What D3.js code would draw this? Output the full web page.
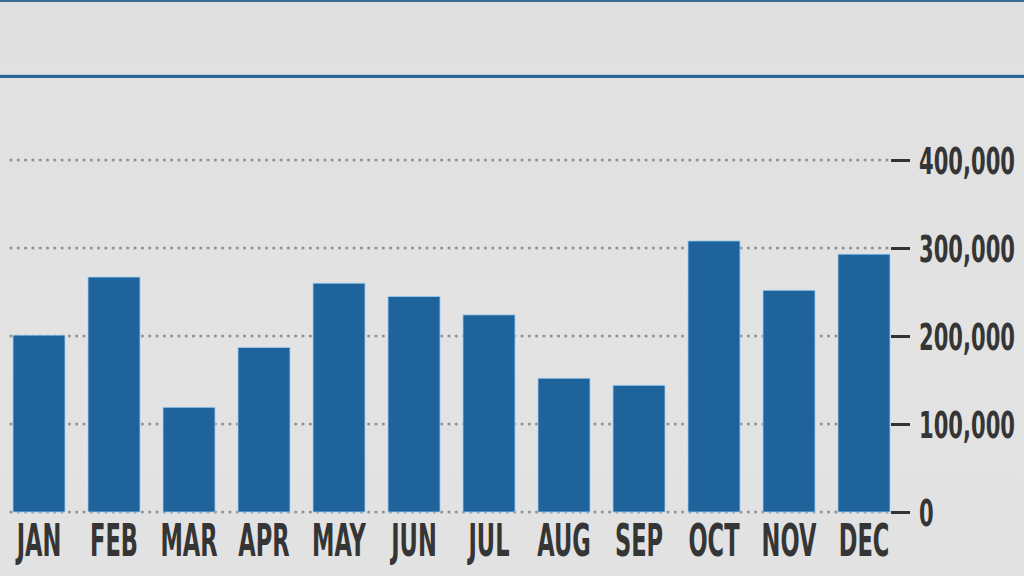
<!DOCTYPE html>
<html>
<head>
<meta charset="utf-8">
<script src="https://cdn.jsdelivr.net/npm/d3@7"></script>
<style>
  html, body { margin: 0; padding: 0; background: #e1e1e1; overflow: hidden; }
  svg { display: block; }
</style>
</head>
<body>
<svg id="chart" width="1024" height="576"></svg>
<script>
const months = ["JAN","FEB","MAR","APR","MAY","JUN","JUL","AUG","SEP","OCT","NOV","DEC"];
const values = [201000, 267000, 119000, 187000, 260000, 245000, 224000, 152000, 144000, 308000, 252000, 293000];
const tickValues = [0, 100000, 200000, 300000, 400000];
const tickLabels = ["0", "100,000", "200,000", "300,000", "400,000"];

const svg = d3.select("#chart");
const W = 1024, H = 576;

const defs = svg.append("defs");
const bg = defs.append("linearGradient").attr("id", "bg").attr("x1", 0).attr("y1", 0).attr("x2", 0).attr("y2", 1);
bg.append("stop").attr("offset", "0%").attr("stop-color", "#e0e0e0");
bg.append("stop").attr("offset", "60%").attr("stop-color", "#e3e3e3");
bg.append("stop").attr("offset", "100%").attr("stop-color", "#e2e2e2");
svg.append("rect").attr("width", W).attr("height", H).attr("fill", "url(#bg)");

// top rules
svg.append("line").attr("x1", 0).attr("x2", W).attr("y1", 1).attr("y2", 1)
  .attr("stroke", "#3a6d96").attr("stroke-width", 2);
svg.append("line").attr("x1", 0).attr("x2", W).attr("y1", 74.5).attr("y2", 74.5)
  .attr("stroke", "#b8cfe2").attr("stroke-width", 1);
svg.append("line").attr("x1", 0).attr("x2", W).attr("y1", 76.5).attr("y2", 76.5)
  .attr("stroke", "#2c6496").attr("stroke-width", 3);

const x = d3.scaleBand().domain(months).range([1.5, 901.5])
  .paddingInner(23 / 75).paddingOuter(23 / 150);
const y = d3.scaleLinear().domain([0, 400000]).range([512, 160]);

// dotted gridlines
svg.append("g").selectAll("line").data(tickValues).join("line")
  .attr("x1", 11).attr("x2", 888)
  .attr("y1", d => y(d)).attr("y2", d => y(d))
  .attr("stroke", "#939393").attr("stroke-width", 3.2)
  .attr("stroke-linecap", "round").attr("stroke-dasharray", "0,7.3");

// bars
svg.append("g").selectAll("rect").data(values).join("rect")
  .attr("x", (d, i) => x(months[i]))
  .attr("y", d => y(d))
  .attr("width", x.bandwidth())
  .attr("height", d => y(0) - y(d))
  .attr("fill", "#1e639c")
  .attr("stroke", "#9fcff0").attr("stroke-width", 0.8);

const fontFam = "'Liberation Sans Narrow', 'DejaVu Sans Condensed', 'Liberation Sans', sans-serif";

// right axis
const yAxis = d3.axisRight(y).tickValues(tickValues)
  .tickFormat((d, i) => tickLabels[i]).tickSize(19).tickPadding(0);
const ga = svg.append("g").attr("transform", "translate(891,0)").call(yAxis);
ga.select(".domain").remove();
ga.selectAll(".tick line").attr("stroke", "#333").attr("stroke-width", 3);
const yTexts = ga.selectAll(".tick text")
  .attr("x", 0).attr("dy", "0.36em")
  .attr("fill", "#353535")
  .style("font-family", fontFam).style("font-weight", "bold").style("font-size", "38px")
  .attr("text-anchor", "start");
// condense numbers so that the widest label spans ~96px
let wMax = 0;
yTexts.each(function() { wMax = Math.max(wMax, this.getComputedTextLength()); });
const sy = 96 / wMax;
yTexts.attr("transform", `translate(28,0) scale(${sy},1)`);

// bottom axis (month labels)
const xAxis = d3.axisBottom(x).tickSize(0).tickPadding(0);
const gx = svg.append("g").attr("transform", "translate(0,512)").call(xAxis);
gx.select(".domain").remove();
const xTexts = gx.selectAll(".tick text")
  .attr("y", 0).attr("dy", 0)
  .attr("fill", "#353535")
  .style("font-family", fontFam).style("font-weight", "bold").style("font-size", "44px")
  .attr("text-anchor", "middle");
let wSum = 0, n = 0;
xTexts.each(function() { wSum += this.getComputedTextLength(); n++; });
const sx = 50 / (wSum / n);
xTexts.attr("transform", `translate(0,44) scale(${sx},1)`);
</script>
</body>
</html>
